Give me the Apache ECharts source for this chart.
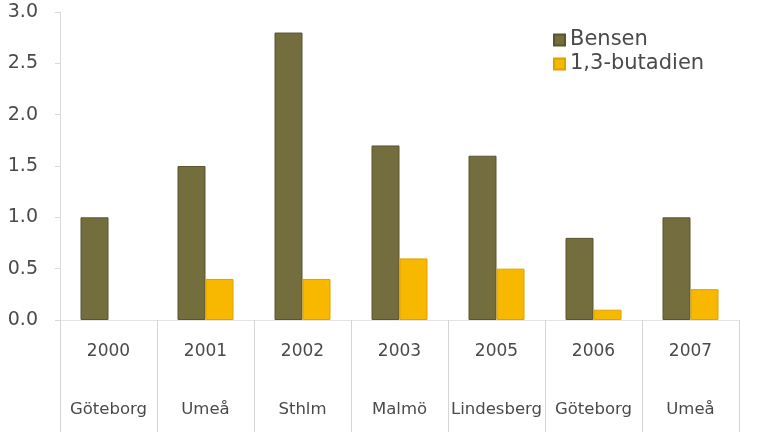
<!DOCTYPE html>
<html><head><meta charset="utf-8">
<script src="https://cdn.jsdelivr.net/npm/echarts@6/dist/echarts.min.js"></script>
<style>html,body{margin:0;padding:0;background:#fff;}#c{width:762px;height:436px;}</style>
</head><body><div id="c"></div>
<script>
const years = ['2000','2001','2002','2003','2005','2006','2007'];
const cities = ['Göteborg','Umeå','Sthlm','Malmö','Lindesberg','Göteborg','Umeå'];
const bensen = [1.0, 1.5, 2.8, 1.7, 1.6, 0.8, 1.0];
const butadien = [null, 0.4, 0.4, 0.6, 0.5, 0.1, 0.3];
const yTicks = [0, 0.5, 1.0, 1.5, 2.0, 2.5, 3.0];
const seriesNames = ['Bensen', '1,3-butadien'];

const FONT = 'DejaVu Sans';
const TXT = '#4a4a4a';
const categories = years.map((y, i) => y + '\n' + cities[i]);
const chart = echarts.init(document.getElementById('c'));
chart.setOption({
  animation: false,
  textStyle: { fontFamily: FONT },
  grid: { left: 60, right: 23, top: 12, bottom: 116 },
  legend: {
    orient: 'vertical', left: 548, top: 24, itemGap: 2,
    itemWidth: 11, itemHeight: 11, icon: 'rect',
    textStyle: { fontSize: 21, color: TXT, fontFamily: FONT, lineHeight: 22 },
    data: seriesNames
  },
  xAxis: {
    type: 'category', data: categories,
    axisLine: { show: true, lineStyle: { color: '#e4e4e4' } },
    axisTick: { show: true, interval: 0, length: 112, alignWithLabel: false, lineStyle: { color: '#d4d4d4' } },
    axisLabel: {
      interval: 0, margin: 22,
      formatter: (v) => { const p = v.split('\n'); return '{y|' + p[0] + '}\n{s| }\n{c|' + p[1] + '}'; },
      rich: {
        y: { fontSize: 17, color: TXT, fontFamily: FONT, lineHeight: 20 },
        s: { fontSize: 10, lineHeight: 38 },
        c: { fontSize: 16.5, color: TXT, fontFamily: FONT, lineHeight: 20 }
      }
    }
  },
  yAxis: {
    type: 'value', min: 0, max: 3, interval: 0.5,
    axisLine: { show: true, lineStyle: { color: '#d9d9d9' } },
    axisTick: { show: true, length: 5, lineStyle: { color: '#d9d9d9' } },
    splitLine: { show: false },
    axisLabel: {
      margin: 22, fontSize: 19, color: TXT, fontFamily: FONT,
      formatter: (v) => yTicks.includes(v) ? v.toFixed(1) : ''
    }
  },
  series: [
    { name: seriesNames[0], type: 'bar', data: bensen, barWidth: 28, barGap: '0%',
      itemStyle: { color: '#746d3d', borderColor: '#5a552e', borderWidth: 1 } },
    { name: seriesNames[1], type: 'bar', data: butadien, barWidth: 28,
      itemStyle: { color: '#f8b800', borderColor: '#dca200', borderWidth: 1 } }
  ]
});
</script></body></html>
